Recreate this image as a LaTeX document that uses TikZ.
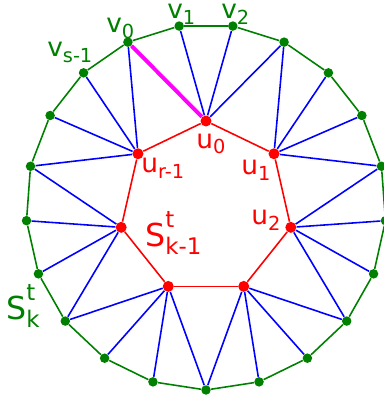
\documentclass[tikz,border=0pt]{standalone}
\usepackage{fontspec}
\usepackage{amsmath}
\setmainfont{DejaVu Sans}
\usepackage{tikz}
\usetikzlibrary{positioning}
\definecolor{sgreen}{HTML}{008000}
\definecolor{sred}{HTML}{FF0000}
\definecolor{sblue}{HTML}{0000FF}
\definecolor{smagenta}{HTML}{FF00FF}
\DeclareMathSizes{15}{15}{11}{8}
\newcommand{\ringlab}[3]{#1\makebox[0pt][l]{\raisebox{0.62em}{\fontsize{13}{13}\selectfont #2}}\raisebox{-0.25em}{\fontsize{13}{13}\selectfont #3}}

\begin{document}
\begin{tikzpicture}[x=0.02cm, y=0.02cm,
  outdot/.style={circle, fill=sgreen, inner sep=0pt, minimum size=0.19cm},
  indot/.style={circle, fill=sred, inner sep=0pt, minimum size=0.22cm},
  vlab/.style={text=sgreen, font=\fontsize{15}{17}\selectfont, inner sep=0pt, anchor=base west},
  ulab/.style={vlab, text=sred},
  slab/.style={vlab, font=\fontsize{18}{20}\selectfont},
  spoke/.style={sblue, line width=0.9pt}]
\useasboundingbox (0,0) rectangle (383,403);
% outer ring
\foreach \j in {0,...,20}
  \node[outdot] (v\j) at ({206+180*cos(90-(\j-1.5)*360/21)}, {196+183*sin(90-(\j-1.5)*360/21)}) {};
% inner ring
\foreach \k in {0,...,6}
  \node[indot] (u\k) at ({206+87*cos(90-\k*360/7)}, {195+87*sin(90-\k*360/7)}) {};
\foreach \j in {0,...,20}{
  \pgfmathtruncatemacro{\nj}{mod(\j+1,21)}
  \draw[sgreen, line width=0.9pt] (v\j) -- (v\nj);
}
\foreach \k in {0,...,6}{
  \pgfmathtruncatemacro{\nk}{mod(\k+1,7)}
  \draw[sred, line width=0.9pt] (u\k) -- (u\nk);
  \foreach \m in {0,...,3}{
    \pgfmathtruncatemacro{\o}{mod(3*\k+\m,21)}
    \ifnum\k\m=00 \else \draw[spoke] (u\k) -- (v\o); \fi
  }
}
\draw[smagenta, line width=2.2pt] (u0) -- (v0);
% labels
\node[vlab] (lv0) at (106,370) {v$_{\text{0}}$};
\node[vlab] (lv1) at (167,384) {v$_{\text{1}}$};
\node[vlab] (lv2) at (221,384) {v$_{\text{2}}$};
\node[vlab] (lvs) at (47,346) {v$_{\text{s-1}}$};
\node[ulab] (lu0) at (196,255) {u$_{\text{0}}$};
\node[ulab] (lu1) at (241,228) {u$_{\text{1}}$};
\node[ulab] (lu2) at (251,178) {u$_{\text{2}}$};
\node[ulab] (lur) at (141,230) {u$_{\text{r-1}}$};
\node[slab, text=sred] (lin) at (145,156) {\ringlab{S}{t}{k-1}};
\node[slab] (lout) at (6,83) {\ringlab{S}{t}{k}};
\end{tikzpicture}
\end{document}
